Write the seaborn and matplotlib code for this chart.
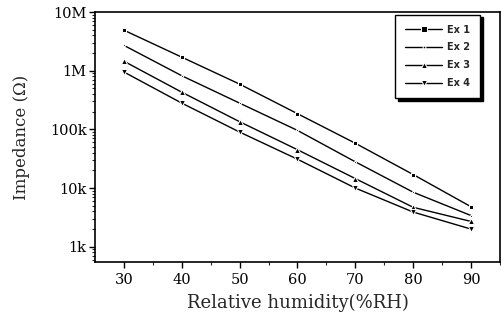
import numpy as np
import pandas as pd
import matplotlib
matplotlib.use("Agg")
import matplotlib.pyplot as plt
import seaborn as sns
from matplotlib.ticker import FixedLocator, FixedFormatter, LogLocator, NullFormatter

humidity = [30, 40, 50, 60, 70, 80, 90]
ex1 = [4.9e6, 1.7e6, 5.9e5, 1.85e5, 5.8e4, 1.7e4, 4.8e3]
ex2 = [2.7e6, 8.2e5, 2.8e5, 9.6e4, 2.8e4, 8.5e3, 3.4e3]
ex3 = [1.45e6, 4.3e5, 1.35e5, 4.5e4, 1.45e4, 4.7e3, 2.7e3]
ex4 = [9.5e5, 2.8e5, 9.0e4, 3.1e4, 1.0e4, 3.9e3, 2.0e3]
series_names = ["Ex 1", "Ex 2", "Ex 3", "Ex 4"]
y_ticks = [1e3, 1e4, 1e5, 1e6, 1e7]
y_tick_labels = ["1k", "10k", "100k", "1M", "10M"]
x_ticks = [30, 40, 50, 60, 70, 80, 90]

rows = []
for name, vals in zip(series_names, [ex1, ex2, ex3, ex4]):
    for h, v in zip(humidity, vals):
        rows.append({"RH": h, "Z": v, "series": name})
df = pd.DataFrame(rows)

sns.set_style("ticks")
plt.rcParams["font.family"] = ["DejaVu Serif"]

fig = plt.figure(figsize=(5.02, 3.22), dpi=100)
ax = fig.add_axes([95 / 502, 1 - 262 / 322, 405 / 502, 250 / 322])

markers = {"Ex 1": "s", "Ex 2": ".", "Ex 3": "^", "Ex 4": "v"}
sizes_map = {"Ex 1": 2.5, "Ex 2": 3, "Ex 3": 4.5, "Ex 4": 4.5}
palette = {n: "black" for n in series_names}
sns.lineplot(data=df, x="RH", y="Z", hue="series", style="series",
             markers=markers, dashes=False, palette=palette, ax=ax,
             linewidth=1.0, markersize=4, legend=True)
ax.set_yscale("log")
ax.set_xlim(25, 95)
ax.set_ylim(550, 1e7)

for line, name in zip(ax.get_lines()[:4], series_names):
    line.set_markersize(sizes_map[name])

ax.set_xticks(x_ticks)
ax.set_xticks([35, 45, 55, 65, 75, 85, 95], minor=True)
ax.yaxis.set_major_locator(FixedLocator(y_ticks))
ax.yaxis.set_major_formatter(FixedFormatter(y_tick_labels))
ax.yaxis.set_minor_locator(LogLocator(base=10, subs=np.arange(2, 10)))
ax.yaxis.set_minor_formatter(NullFormatter())

ax.tick_params(axis="both", which="major", direction="out", length=4, width=1,
               labelsize=10.5, colors="black")
ax.tick_params(axis="x", which="major", pad=4)
ax.tick_params(axis="y", which="major", pad=2)
ax.tick_params(axis="both", which="minor", direction="out", length=2.5, width=0.8)
for s in ax.spines.values():
    s.set_visible(True)
    s.set_linewidth(1.2)
    s.set_color("black")

ax.set_xlabel("Relative humidity(%RH)", fontsize=13, labelpad=5)
ax.set_ylabel("Impedance (Ω)", fontsize=12, labelpad=14)

handles, labels = ax.get_legend_handles_labels()
leg = ax.legend(handles, labels, loc="upper right", bbox_to_anchor=(0.951, 0.99),
                frameon=True, fancybox=False, shadow={"color": "black", "alpha": 1.0},
                prop={"family": "DejaVu Sans", "size": 7, "weight": "bold"},
                handlelength=3.8, labelspacing=0.8, borderpad=1.05,
                handletextpad=0.5, borderaxespad=0)
leg.get_frame().set_edgecolor("black")
leg.get_frame().set_linewidth(1.0)
for h in leg.legend_handles:
    h.set_color("black")

fig.savefig("out.png", dpi=100)
